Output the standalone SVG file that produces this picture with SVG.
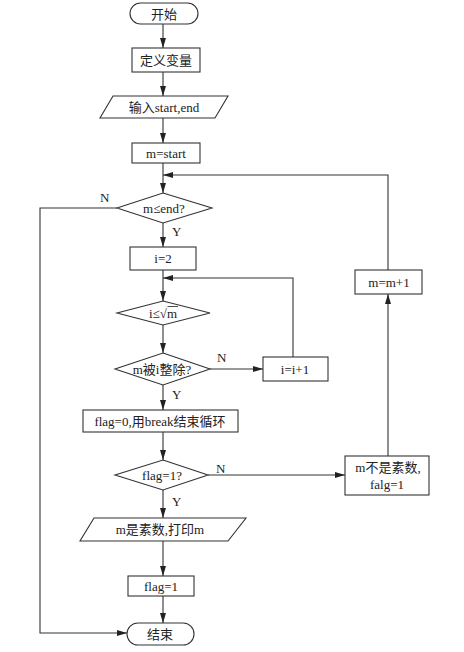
<svg xmlns="http://www.w3.org/2000/svg" width="464" height="652" viewBox="0 0 464 652">
<style>
.s{fill:#fff;stroke:#333;stroke-width:1.1}
.c{fill:none;stroke:#333;stroke-width:1.1}
.t{font-family:"Liberation Serif","Noto Sans CJK SC",serif;font-size:13px;fill:#222;text-anchor:middle;dominant-baseline:central}
.l{font-family:"Liberation Serif",serif;font-size:13px;fill:#222}
</style>
<defs>
<marker id="a" viewBox="0 0 10 6" refX="10" refY="3" markerWidth="10" markerHeight="6" markerUnits="userSpaceOnUse" orient="auto">
<path d="M0,0 L10,3 L0,6 Z" fill="#222"/>
</marker>
</defs>
<rect width="464" height="652" fill="#fff"/>
<g id="connectors">
<line class="c" x1="163" y1="24" x2="163" y2="48" marker-end="url(#a)"/>
<line class="c" x1="163" y1="72" x2="163" y2="96" marker-end="url(#a)"/>
<line class="c" x1="163" y1="118" x2="163" y2="143" marker-end="url(#a)"/>
<line class="c" x1="163" y1="163" x2="163" y2="193" marker-end="url(#a)"/>
<line class="c" x1="163" y1="223" x2="163" y2="247" marker-end="url(#a)"/>
<line class="c" x1="163" y1="270" x2="163" y2="301" marker-end="url(#a)"/>
<line class="c" x1="163" y1="325" x2="163" y2="353" marker-end="url(#a)"/>
<line class="c" x1="163" y1="385" x2="163" y2="410" marker-end="url(#a)"/>
<line class="c" x1="163" y1="432" x2="163" y2="460" marker-end="url(#a)"/>
<line class="c" x1="163" y1="490" x2="163" y2="518" marker-end="url(#a)"/>
<line class="c" x1="163" y1="541" x2="163" y2="576" marker-end="url(#a)"/>
<line class="c" x1="163" y1="596" x2="163" y2="623" marker-end="url(#a)"/>
<polyline class="c" points="117,208 40,208 40,633 127,633" marker-end="url(#a)"/>
<polyline class="c" points="388,270 388,175 163,175" marker-end="url(#a)"/>
<polyline class="c" points="293,357 293,278 163,278" marker-end="url(#a)"/>
<line class="c" x1="210" y1="369" x2="263" y2="369" marker-end="url(#a)"/>
<line class="c" x1="208" y1="475" x2="345" y2="475" marker-end="url(#a)"/>
<line class="c" x1="388" y1="456" x2="388" y2="294" marker-end="url(#a)"/>
<text class="l" x="100" y="202">N</text>
<text class="l" x="172" y="236">Y</text>
<text class="l" x="217" y="362">N</text>
<text class="l" x="172" y="399">Y</text>
<text class="l" x="216" y="473">N</text>
<text class="l" x="172" y="506">Y</text>
</g>
<g id="start">
<rect class="s" x="130" y="3" width="68" height="21" rx="10.5"/>
<text class="t" x="164" y="14">开始</text>
</g>
<g id="define">
<rect class="s" x="132" y="48" width="68" height="24"/>
<text class="t" x="166" y="60">定义变量</text>
</g>
<g id="input">
<polygon class="s" points="113,96 228,96 215,118 100,118"/>
<text class="t" x="164" y="107">输入start,end</text>
</g>
<g id="mstart">
<rect class="s" x="132" y="143" width="68" height="20"/>
<text class="t" x="166" y="153">m=start</text>
</g>
<g id="cond1">
<polygon class="s" points="163,193 212,208 163,223 117,208"/>
<text class="t" x="164" y="208">m≤end?</text>
</g>
<g id="i2">
<rect class="s" x="130" y="247" width="66" height="23"/>
<text class="t" x="163" y="258.5">i=2</text>
</g>
<g id="cond2">
<polygon class="s" points="163,301 210,313 163,325 117,313"/>
<text class="t" x="163" y="313">i≤√m</text>
<line x1="167.5" y1="306.5" x2="178" y2="306.5" stroke="#222" stroke-width="0.8"/>
</g>
<g id="cond3">
<polygon class="s" points="163,353 210,369 163,385 115,369"/>
<text class="t" x="162" y="369">m被i整除?</text>
</g>
<g id="inc">
<rect class="s" x="263" y="357" width="65" height="24"/>
<text class="t" x="295" y="369">i=i+1</text>
</g>
<g id="flag0">
<rect class="s" x="83" y="410" width="155" height="22"/>
<text class="t" x="160" y="421">flag=0,用break结束循环</text>
</g>
<g id="cond4">
<polygon class="s" points="163,460 208,475 163,490 115,475"/>
<text class="t" x="162" y="475">flag=1?</text>
</g>
<g id="notprime">
<rect class="s" x="345" y="456" width="84" height="39"/>
<text class="t" x="388" y="467">m不是素数,</text>
<text class="t" x="387" y="484">falg=1</text>
</g>
<g id="minc">
<rect class="s" x="355" y="270" width="67" height="24"/>
<text class="t" x="389" y="282">m=m+1</text>
</g>
<g id="print">
<polygon class="s" points="94,518 246,518 228,541 80,541"/>
<text class="t" x="160" y="529.5">m是素数,打印m</text>
</g>
<g id="flag1">
<rect class="s" x="128" y="576" width="66" height="20"/>
<text class="t" x="161" y="586">flag=1</text>
</g>
<g id="end">
<rect class="s" x="127" y="623" width="67" height="22" rx="11"/>
<text class="t" x="160" y="634">结束</text>
</g>
</svg>
